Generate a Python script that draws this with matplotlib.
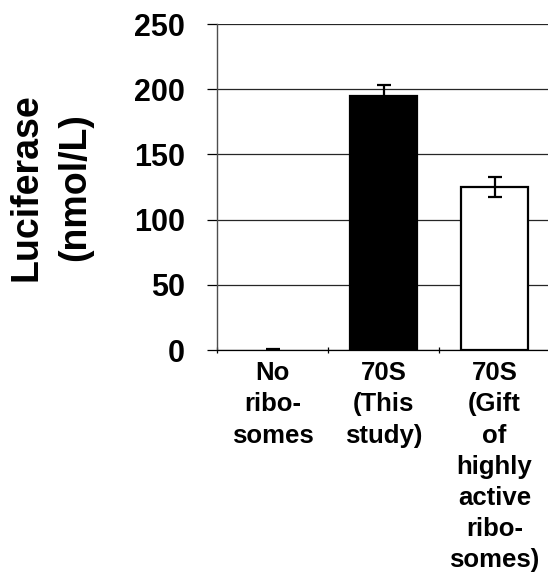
import numpy as np
import matplotlib.pyplot as plt

categories = ["No\nribo-\nsomes", "70S\n(This\nstudy)",
              "70S\n(Gift\nof\nhighly\nactive\nribo-\nsomes)"]
values = [0, 195, 125]
errors = [0.5, 8, 8]
colors = ["white", "black", "white"]
edges = ["none", "black", "black"]

plt.rcParams['font.family'] = ['Liberation Sans', 'DejaVu Sans']
plt.rcParams['font.weight'] = 'bold'

fig = plt.figure(figsize=(5.48, 5.73), dpi=100)
ax = fig.add_axes([217/548, 223/573, 333/548, 326/573])

x = np.arange(len(categories))
ax.bar(x, values, width=0.6, color=colors, edgecolor=edges, linewidth=1.6,
       zorder=3)
ax.errorbar(x, values, yerr=errors, fmt="none", ecolor="black",
            elinewidth=1.6, capsize=4.7, capthick=1.6, zorder=4)

ax.set_xlim(-0.5, 2.5)
ax.set_ylim(0, 250)
ax.set_yticks([0, 50, 100, 150, 200, 250])
ax.yaxis.grid(True, color="0.15", linewidth=0.9, zorder=0)

ax.set_xticks(x)
ax.set_xticklabels(categories, fontsize=18.5, fontweight="bold",
                   linespacing=1.38)
ax.set_xticks([-0.5, 0.5, 1.5], minor=True)
ax.tick_params(axis="x", which="major", length=0, pad=8)
ax.tick_params(axis="x", which="minor", direction="inout", length=5,
               width=0.9)
ax.tick_params(axis="y", direction="out", length=7, width=0.9, pad=16,
               labelsize=22)
for lab in ax.get_yticklabels():
    lab.set_fontweight("bold")

ax.spines["top"].set_visible(False)
ax.spines["right"].set_visible(False)
ax.spines["left"].set_color("0.3")
ax.spines["left"].set_linewidth(1.0)
ax.spines["bottom"].set_linewidth(0.9)

ax.set_ylabel("Luciferase\n(nmol/L)", fontsize=27, fontweight="bold",
              linespacing=1.45)
ax.yaxis.set_label_coords(-0.372, 0.5)

fig.savefig("out.png", dpi=100)
